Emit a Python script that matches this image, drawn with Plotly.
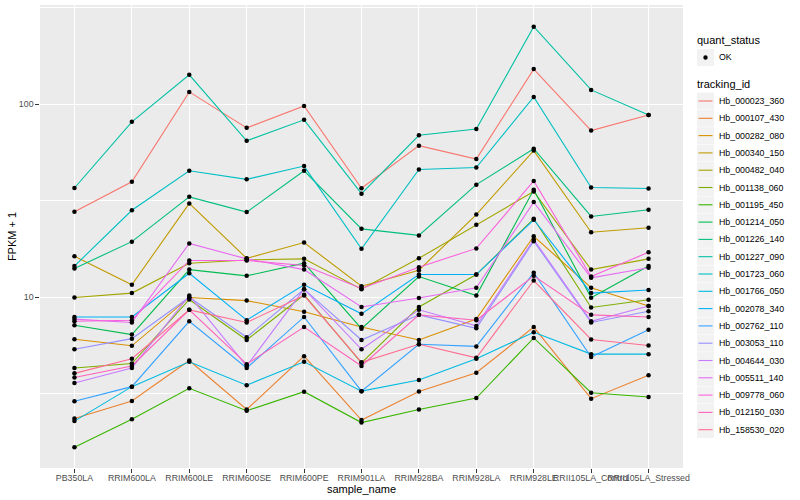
import plotly.graph_objects as go

samples = ["PB350LA", "RRIM600LA", "RRIM600LE", "RRIM600SE", "RRIM600PE", "RRIM901LA",
           "RRIM928BA", "RRIM928LA", "RRIM928LE", "RRII105LA_Control", "RRII105LA_Stressed"]

tracking_ids = ["Hb_000023_360", "Hb_000107_430", "Hb_000282_080", "Hb_000340_150", "Hb_000482_040",
                "Hb_001138_060", "Hb_001195_450", "Hb_001214_050", "Hb_001226_140", "Hb_001227_090",
                "Hb_001723_060", "Hb_001766_050", "Hb_002078_340", "Hb_002762_110", "Hb_003053_110",
                "Hb_004644_030", "Hb_005511_140", "Hb_009778_060", "Hb_012150_030", "Hb_158530_020"]

colors = ["#F8766D", "#EA8331", "#D89000", "#C09B00", "#A3A500", "#7CAE00", "#39B600", "#00BB4E",
          "#00BF7D", "#00C1A3", "#00BFC4", "#00BAE0", "#00B0F6", "#35A2FF", "#9590FF", "#C77CFF",
          "#E76BF3", "#FA62DB", "#FF62BC", "#FF6C91"]

quant_status = ["OK"]

# FPKM + 1 per tracking id, one value per sample
hb_000023_360 = [27.7, 39.6, 115.8, 75.4, 98, 36.7, 61, 52, 152, 73, 88]
hb_000107_430 = [2.35, 2.9, 4.7, 2.62, 4.95, 2.31, 3.25, 4.06, 7.0, 2.98, 3.94]
hb_000282_080 = [6.06, 5.6, 9.97, 9.6, 8.4, 7.0, 6.0, 7.7, 20.7, 11.2, 9.0]
hb_000340_150 = [16.3, 11.6, 30.6, 15.9, 19.2, 11.4, 13.8, 26.8, 57.5, 21.7, 22.9]
hb_000482_040 = [9.97, 10.5, 15.0, 15.6, 15.8, 11.0, 15.9, 23.7, 35.3, 13.9, 15.8]
hb_001138_060 = [4.3, 4.53, 9.73, 6.0, 10.3, 4.57, 8.9, 13.1, 25.5, 8.85, 9.7]
hb_001195_450 = [1.67, 2.33, 3.37, 2.58, 3.24, 2.24, 2.62, 3.0, 6.15, 3.2, 3.04]
hb_001214_050 = [7.16, 6.4, 13.9, 12.9, 15.0, 6.87, 12.8, 10.2, 36.0, 9.93, 14.5]
hb_001226_140 = [14.1, 19.4, 33.1, 27.6, 45.2, 22.6, 20.9, 38.3, 58.8, 26.2, 28.4]
hb_001227_090 = [36.8, 81, 142, 64.6, 83, 34.4, 69, 74.3, 252, 118.6, 88]
hb_001723_060 = [14.5, 28.2, 45.2, 40.8, 47.8, 17.8, 45.9, 47, 109, 37, 36.6]
hb_001766_050 = [2.28, 3.44, 4.63, 3.5, 4.63, 3.26, 3.72, 4.8, 6.58, 5.07, 5.07]
hb_002078_340 = [7.9, 7.9, 13.3, 7.6, 11.6, 8.2, 13.1, 13.1, 25.2, 10.5, 10.9]
hb_002762_110 = [2.89, 3.44, 7.5, 4.3, 7.9, 3.26, 5.7, 5.56, 13.4, 4.9, 6.78]
hb_003053_110 = [5.37, 6.1, 10.0, 6.2, 11.0, 6.0, 8.1, 6.9, 19.5, 7.4, 8.46]
hb_004644_030 = [3.59, 4.3, 10.2, 4.4, 11.0, 5.37, 8.6, 7.1, 19.9, 7.5, 9.0]
hb_005511_140 = [7.7, 7.4, 19.0, 15.8, 13.9, 8.9, 9.9, 11.2, 31.1, 12.6, 14.2]
hb_009778_060 = [7.5, 7.6, 15.5, 15.5, 14.6, 11.1, 14.3, 17.9, 40, 12.8, 17.1]
hb_012150_030 = [3.84, 4.4, 8.6, 4.5, 7.0, 4.4, 8.1, 7.6, 12.9, 8.1, 7.9]
hb_158530_020 = [4.03, 4.8, 8.6, 7.4, 10.2, 4.6, 5.7, 4.85, 12.2, 6.04, 5.62]

series = [hb_000023_360, hb_000107_430, hb_000282_080, hb_000340_150, hb_000482_040,
          hb_001138_060, hb_001195_450, hb_001214_050, hb_001226_140, hb_001227_090,
          hb_001723_060, hb_001766_050, hb_002078_340, hb_002762_110, hb_003053_110,
          hb_004644_030, hb_005511_140, hb_009778_060, hb_012150_030, hb_158530_020]

FONT = "Liberation Sans, Arial, sans-serif"
W, H = 800, 500
ML, MR, MT, MB = 40, 117, 5, 32
PW, PH = W - ML - MR, H - MT - MB


def px_x(px):
    return (px - ML) / PW


def px_y(py):
    return (H - MB - py) / PH


fig = go.Figure()
for name, vals, col in zip(tracking_ids, series, colors):
    fig.add_trace(go.Scatter(x=samples, y=vals, mode="lines", name=name,
                             line=dict(color=col, width=1.1), showlegend=False))

all_x = [s for _ in series for s in samples]
all_y = [v for vals in series for v in vals]
fig.add_trace(go.Scatter(x=all_x, y=all_y, mode="markers", name=quant_status[0],
                         marker=dict(color="black", size=4.5), showlegend=False))

# ---- hand-built ggplot-style legend (layout only) ----
shapes = []
annotations = []
KEY_L, KEY_R = 697, 714
TXT_X = 716.5
STEP = 17.3


def key_box(cy):
    shapes.append(dict(type="rect", xref="paper", yref="paper",
                       x0=px_x(KEY_L), x1=px_x(KEY_R), y0=px_y(cy + 8.4), y1=px_y(cy - 8.4),
                       fillcolor="#F2F2F2", line=dict(width=0), layer="above"))


def label(px, py, text, size, color="black"):
    annotations.append(dict(xref="paper", yref="paper", x=px_x(px), y=px_y(py), text=text,
                            showarrow=False, xanchor="left", yanchor="middle",
                            font=dict(family=FONT, size=size, color=color)))


label(695, 40.5, "quant_status", 11)
key_box(57.5)
shapes.append(dict(type="circle", xref="paper", yref="paper",
                   x0=px_x(705.5 - 2.2), x1=px_x(705.5 + 2.2), y0=px_y(57.5 + 2.2), y1=px_y(57.5 - 2.2),
                   fillcolor="black", line=dict(width=0), layer="above"))
label(TXT_X, 57.5, quant_status[0], 8.8)

label(695, 84.5, "tracking_id", 11)
for i, (name, col) in enumerate(zip(tracking_ids, colors)):
    cy = 101 + i * STEP
    key_box(cy)
    shapes.append(dict(type="line", xref="paper", yref="paper",
                       x0=px_x(698.5), x1=px_x(712.5), y0=px_y(cy), y1=px_y(cy),
                       line=dict(color=col, width=1.1), layer="above"))
    label(TXT_X, cy, name, 8.8)

fig.update_layout(
    width=W, height=H,
    margin=dict(l=ML, r=MR, t=MT, b=MB),
    paper_bgcolor="white", plot_bgcolor="#EBEBEB",
    font=dict(family=FONT, size=9, color="#4D4D4D"),
    showlegend=False,
    shapes=shapes, annotations=annotations,
    xaxis=dict(type="category", categoryorder="array", categoryarray=samples,
               range=[-0.6, 10.6], showgrid=True, gridcolor="white", gridwidth=1.1,
               zeroline=False, ticks="outside", ticklen=3.7, tickcolor="#333333",
               tickangle=0, tickfont=dict(size=8.8, color="#4D4D4D"), ticklabelstandoff=-2,
               title=dict(text="sample_name", font=dict(size=11, color="black"), standoff=0),
               automargin=False, showline=False),
    yaxis=dict(type="log", range=[0.115, 2.514], tickvals=[10, 100], ticktext=["10", "100"],
               showgrid=True, gridcolor="white", gridwidth=1.1, zeroline=False,
               ticks="outside", ticklen=3.7, tickcolor="#333333",
               tickfont=dict(size=8.8, color="#4D4D4D"),
               minor=dict(tickvals=[10 ** 0.5, 10 ** 1.5, 10 ** 2.5], showgrid=True,
                          gridcolor="white", gridwidth=0.55, ticks=""),
               title=dict(text="FPKM + 1", font=dict(size=11, color="black"), standoff=0),
               automargin=False, showline=False),
)

fig.write_html("out.html", config={"displayModeBar": False},
               post_script="document.body.style.margin='0';document.body.style.overflow='hidden';")
